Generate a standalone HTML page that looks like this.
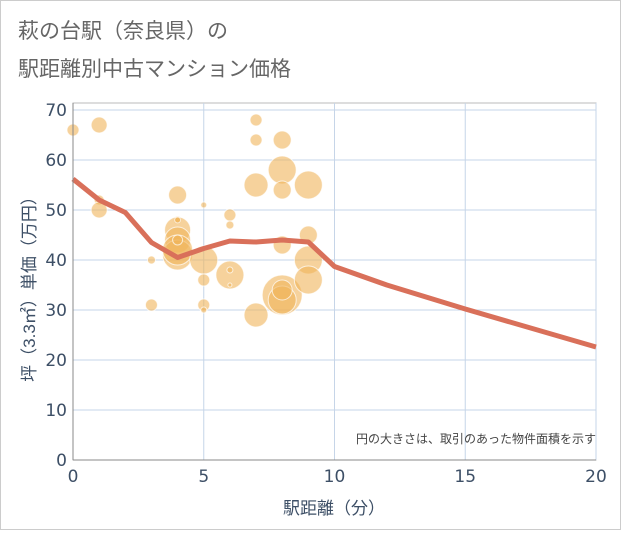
<!DOCTYPE html>
<html><head><meta charset="utf-8"><style>
body{margin:0;background:#fff;}
svg text{font-family:"Liberation Sans","Noto Sans CJK JP",sans-serif;}
svg text.tick{font-family:"DejaVu Sans",sans-serif;}
</style></head><body>
<svg width="621" height="530" xmlns="http://www.w3.org/2000/svg">
<rect x="0.5" y="0.5" width="620" height="529" fill="#fff" stroke="#ccc"/>
<text x="18" y="38" font-size="21" fill="#666">萩の台駅（奈良県）の</text>
<text x="18" y="76" font-size="21" fill="#666">駅距離別中古マンション価格</text>
<g id="grid"></g>
<g id="bubbles"></g>
<g id="line"></g>
<g id="axes"></g>
<text x="596" y="443" font-size="12" fill="#444" text-anchor="end">円の大きさは、取引のあった物件面積を示す</text>
<text x="334" y="514" font-size="17" fill="#3d4f66" text-anchor="middle">駅距離（分）</text>
<text transform="translate(35,285) rotate(-90)" font-size="17" fill="#3d4f66" text-anchor="middle">坪（3.3㎡）単価（万円）</text>
</svg>
<script>
const xTicks=[0,5,10,15,20];
const yTicks=[0,10,20,30,40,50,60,70];
const bubbleX=[0,1,1,1,3,3,4,4,4,4,4,4,4,4,5,5,5,5,5,6,6,6,6,6,7,7,7,7,8,8,8,8,8,8,8,9,9,9,9];
const bubbleY=[66,67,52,50,40,31,53,48,46,44,41,42,44,48,51,40,36,31,30,49,47,37,38,35,68,64,55,29,64,58,54,43,33,32,34,55,45,40,36];
const bubbleR=[6,8,5,8,4,6,9,4,13,13,15,15,5,3,3,14,6,6,3,6,4,14,3,2,6,6,12,12,9,14,9,9,20,14,10,14,9,14,14];
const lineX=[0,1,2,3,4,5,6,7,8,9,10,12,15,20];
const lineY=[56.2,52,49.5,43.5,40.5,42.3,43.8,43.6,44,43.6,38.7,35,30.2,22.6];
const NS='http://www.w3.org/2000/svg';
const L=73,R=596,T=103,B=460;
const sx=v=>L+(v/20)*(R-L);
const sy=v=>B-(v/70)*(B-110);
function mk(tag,attrs,parent){const e=document.createElementNS(NS,tag);for(const k in attrs)e.setAttribute(k,attrs[k]);parent.appendChild(e);return e;}
const grid=document.getElementById('grid'),axes=document.getElementById('axes');
const bg=mk('rect',{x:L,y:T,width:R-L,height:B-T,fill:'none',stroke:'#bbb'},grid);


xTicks.forEach(t=>{
 const g=mk('line',{x1:sx(t),x2:sx(t),y1:T,y2:B,stroke:'#c6d5e8'},grid);
 
 
 const tx=mk('text',{x:sx(t),y:482,'font-size':17,fill:'#3d4f66','text-anchor':'middle',class:'tick'},axes);
 tx.textContent=t;
 
 
});
yTicks.forEach(t=>{
 const g=mk('line',{x1:L,x2:R,y1:sy(t),y2:sy(t),stroke:'#c6d5e8'},grid);
 
 
 const tx=mk('text',{x:67,y:sy(t)+6,'font-size':17,fill:'#3d4f66','text-anchor':'end',class:'tick'},axes);
 tx.textContent=t;
 
 
});
const ax=mk('line',{x1:L,x2:L,y1:T,y2:B,stroke:'#888'},axes);


const ax2=mk('line',{x1:L,x2:R,y1:B,y2:B,stroke:'#888'},axes);


const bub=document.getElementById('bubbles');
bubbleX.forEach((x,i)=>{
 const c=mk('circle',{cx:sx(x),cy:sy(bubbleY[i]),r:bubbleR[i],fill:'rgba(240,180,90,0.6)',stroke:'rgba(255,255,255,0.7)','stroke-width':1},bub);
 
 
});
const pts=lineX.map((x,i)=>sx(x)+','+sy(lineY[i])).join(' ');
const pl=mk('polyline',{points:pts,fill:'none',stroke:'#d9705a','stroke-width':5,'stroke-linejoin':'round'},document.getElementById('line'));


</script>
</body></html>
